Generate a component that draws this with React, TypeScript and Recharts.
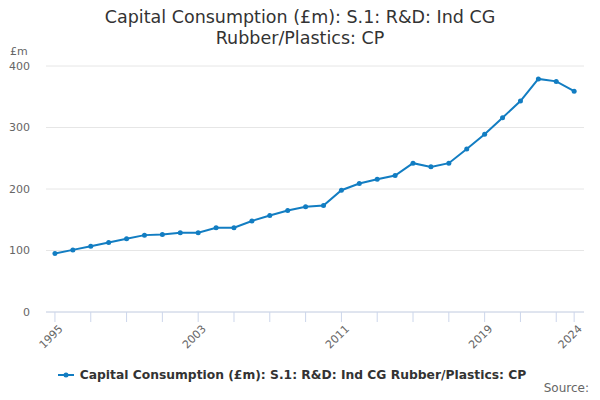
import React from 'react';
import { LineChart, Line, XAxis, YAxis, CartesianGrid, Legend } from 'recharts';

const years = [1995,1996,1997,1998,1999,2000,2001,2002,2003,2004,2005,2006,2007,2008,2009,2010,2011,2012,2013,2014,2015,2016,2017,2018,2019,2020,2021,2022,2023,2024];
const values = [95,101,107,113,119,125,126,129,129,137,137,148,157,165,171,173,198,209,216,222,242,236,242,265,289,316,343,379,375,359];
const xTicks = [1995,1997,1999,2001,2003,2005,2007,2009,2011,2013,2015,2017,2019,2021,2023,2024];
const xLabels = [1995,2003,2011,2019,2024];
const yTicks = [0,100,200,300,400];
const seriesName = 'Capital Consumption (£m): S.1: R&D: Ind CG Rubber/Plastics: CP';
const titleLines = ['Capital Consumption (£m): S.1: R&D: Ind CG', 'Rubber/Plastics: CP'];

const data = years.map((y, i) => ({ year: y, value: values[i] }));

const FONT = '"DejaVu Sans", Verdana, sans-serif';
const COLOR = '#127dc2';

const XTick = (props: any) => {
  const { x, y, payload } = props;
  if (!xLabels.includes(payload.value)) return null;
  const tx = x + 3;
  const ty = y;
  return (
    <text x={tx} y={ty} transform={`rotate(-45, ${tx}, ${ty})`} textAnchor="end" fontSize={11} fill="#666" fontFamily={FONT} dy="0.71em">
      {payload.value}
    </text>
  );
};

const LegendContent = () => (
  <div style={{ display: 'flex', justifyContent: 'center', alignItems: 'center', fontFamily: FONT, fontSize: 12.3, fontWeight: 'bold', color: '#333' }}>
    <svg width={16} height={10} style={{ marginRight: 6 }}>
      <line x1={0} y1={5} x2={16} y2={5} stroke={COLOR} strokeWidth={2} />
      <circle cx={8} cy={5} r={2.5} fill={COLOR} />
    </svg>
    <span>{seriesName}</span>
  </div>
);

export default function App() {
  return (
    <div style={{ position: 'absolute', left: 0, top: 0, width: 600, height: 400, background: '#fff' }}>
      <div style={{ position: 'absolute', top: 7, left: 0, width: 600, textAlign: 'center', fontFamily: FONT, fontSize: 17.5, color: '#333', lineHeight: '21px' }}>
        <div>{titleLines[0]}</div>
        <div>{titleLines[1]}</div>
      </div>
      <div style={{ position: 'absolute', left: 10, top: 45, fontFamily: FONT, fontSize: 11, color: '#666' }}>£m</div>
      <div style={{ position: 'absolute', right: 11, top: 381, fontFamily: FONT, fontSize: 12, color: '#666' }}>Source:</div>
      <LineChart width={600} height={400} data={data} margin={{ top: 66, right: 16, bottom: 4, left: 0 }}>
        <CartesianGrid vertical={false} stroke="#e6e6e6" />
        <XAxis
          dataKey="year"
          type="number"
          domain={[1994.5, 2024.55]}
          ticks={xTicks}
          interval={0}
          tick={<XTick />}
          tickSize={10}
          tickLine={{ stroke: '#ccd6eb' }}
          axisLine={{ stroke: '#ccd6eb' }}
          height={56}
        />
        <YAxis
          domain={[0, 400]}
          ticks={yTicks}
          width={46}
          axisLine={false}
          tickLine={false}
          tickMargin={10}
          tick={{ fontSize: 11, fill: '#666', fontFamily: FONT }}
        />
        <Legend verticalAlign="bottom" height={28} content={<LegendContent />} />
        <Line type="linear" dataKey="value" name={seriesName} stroke={COLOR} strokeWidth={2} dot={{ r: 2.5, fill: COLOR, stroke: COLOR, strokeWidth: 0 }} isAnimationActive={false} />
      </LineChart>
    </div>
  );
}
